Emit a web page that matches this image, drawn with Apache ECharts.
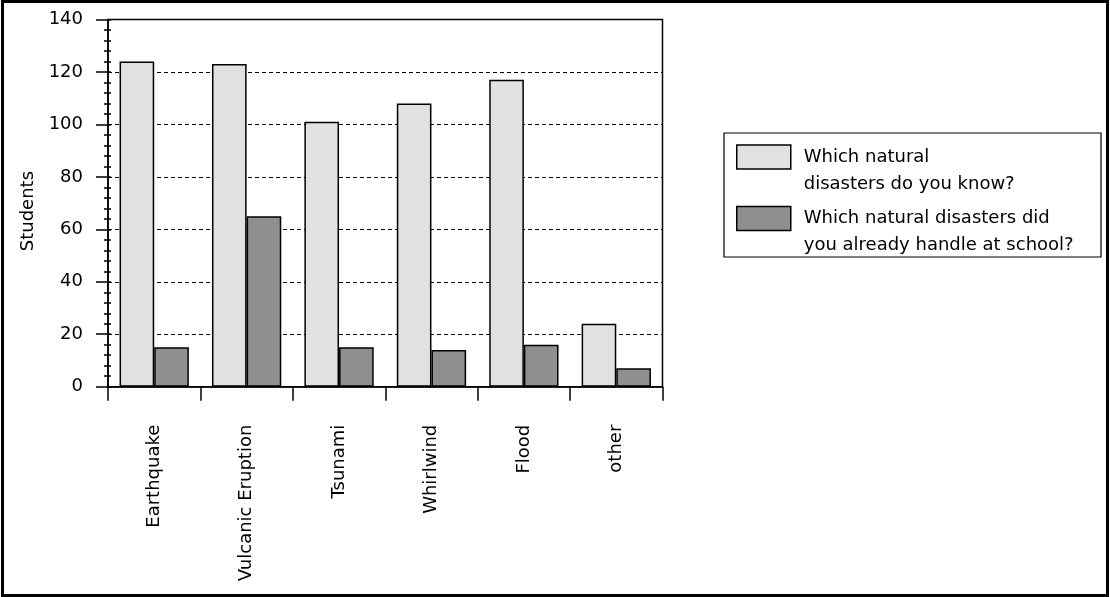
<!DOCTYPE html>
<html>
<head>
<meta charset="utf-8">
<script src="https://cdn.jsdelivr.net/npm/echarts@6/dist/echarts.min.js"></script>
<style>
html,body{margin:0;padding:0;background:#fff;}
#chart{width:1110px;height:597px;}
</style>
</head>
<body>
<div id="chart"></div>
<script>
const categories = ['Earthquake', 'Vulcanic Eruption', 'Tsunami', 'Whirlwind', 'Flood', 'other'];
const knownValues = [124, 123, 101, 108, 117, 24];
const handledValues = [15, 65, 15, 14, 16, 7];
const seriesNames = ['Which natural disasters do you know?', 'Which natural disasters did you already handle at school?'];
const legendLabels = ['Which natural\ndisasters do you know?', 'Which natural disasters did\nyou already handle at school?'];
const yTicks = [0, 20, 40, 60, 80, 100, 120, 140];

const FONT = 'DejaVu Sans';
const chart = echarts.init(document.getElementById('chart'));
const LH = 27;

chart.setOption({
  backgroundColor: '#fff',
  animation: false,
  grid: {
    left: 108, top: 19.5, right: 447.5, bottom: 210.3,
    show: true, borderColor: '#000', borderWidth: 1.5, backgroundColor: 'transparent'
  },
  legend: {
    orient: 'vertical',
    left: 736, top: 145 - (1.5 * LH - 12),
    padding: 0,
    itemGap: 61.5 - 3 * LH,
    itemWidth: 54, itemHeight: 24,
    icon: 'rect',
    itemStyle: { borderColor: '#000', borderWidth: 1.5 },
    data: seriesNames,
    formatter: function (name) { return ' \n' + legendLabels[seriesNames.indexOf(name)]; },
    textStyle: {
      fontFamily: FONT, fontSize: 18, color: '#000',
      lineHeight: LH, padding: [0, 0, 0, 8]
    },
    selectedMode: false
  },
  xAxis: {
    type: 'category',
    data: categories,
    boundaryGap: true,
    axisLine: { lineStyle: { color: '#000', width: 1.5 } },
    axisTick: { show: true, alignWithLabel: false, length: 14, lineStyle: { color: '#000', width: 1.5 } },
    axisLabel: { rotate: 90, margin: 38, interval: 0, fontFamily: FONT, fontSize: 18, color: '#000' },
    splitLine: { show: false }
  },
  yAxis: [{
    type: 'value',
    min: yTicks[0], max: yTicks[yTicks.length - 1], interval: 20,
    name: 'Students',
    nameLocation: 'middle',
    nameGap: 71,
    nameRotate: 90,
    nameTextStyle: { fontFamily: FONT, fontSize: 18, color: '#000', padding: [0, 16, 0, 0] },
    axisLine: { show: true, lineStyle: { color: '#000', width: 1.5 } },
    axisTick: { show: true, length: 12, lineStyle: { color: '#000', width: 1.5 } },
    minorTick: { show: true, splitNumber: 5, length: 4, lineStyle: { color: '#000', width: 1.5 } },
    axisLabel: { margin: 25, fontFamily: FONT, fontSize: 18, color: '#000' },
    splitLine: { show: true, lineStyle: { color: '#000', width: 1, type: [4, 3] } }
  }, {
    type: 'value',
    position: 'left',
    min: yTicks[0], max: yTicks[yTicks.length - 1], interval: 20,
    axisLine: { show: false },
    axisTick: { show: true, inside: true, length: 3, lineStyle: { color: '#000', width: 1.5 } },
    minorTick: { show: true, splitNumber: 5, length: 3, lineStyle: { color: '#000', width: 1.5 } },
    axisLabel: { show: false },
    splitLine: { show: false }
  }],
  series: [{
    name: seriesNames[0],
    type: 'bar',
    data: knownValues,
    barGap: '0%',
    barCategoryGap: '25%',
    itemStyle: { color: '#e1e1e1', borderColor: '#000', borderWidth: 1.5 }
  }, {
    name: seriesNames[1],
    type: 'bar',
    data: handledValues,
    barGap: '0%',
    barCategoryGap: '25%',
    itemStyle: { color: '#8f8f8f', borderColor: '#000', borderWidth: 1.5 }
  }],
  graphic: [{
    type: 'rect', silent: true,
    shape: { x: 724, y: 133, width: 377, height: 124 },
    style: { fill: 'none', stroke: '#000', lineWidth: 1.2 }
  }, {
    type: 'rect', silent: true,
    shape: { x: 2.5, y: 1.5, width: 1105, height: 594 },
    style: { fill: 'none', stroke: '#000', lineWidth: 3 }
  }]
});
</script>
</body>
</html>
